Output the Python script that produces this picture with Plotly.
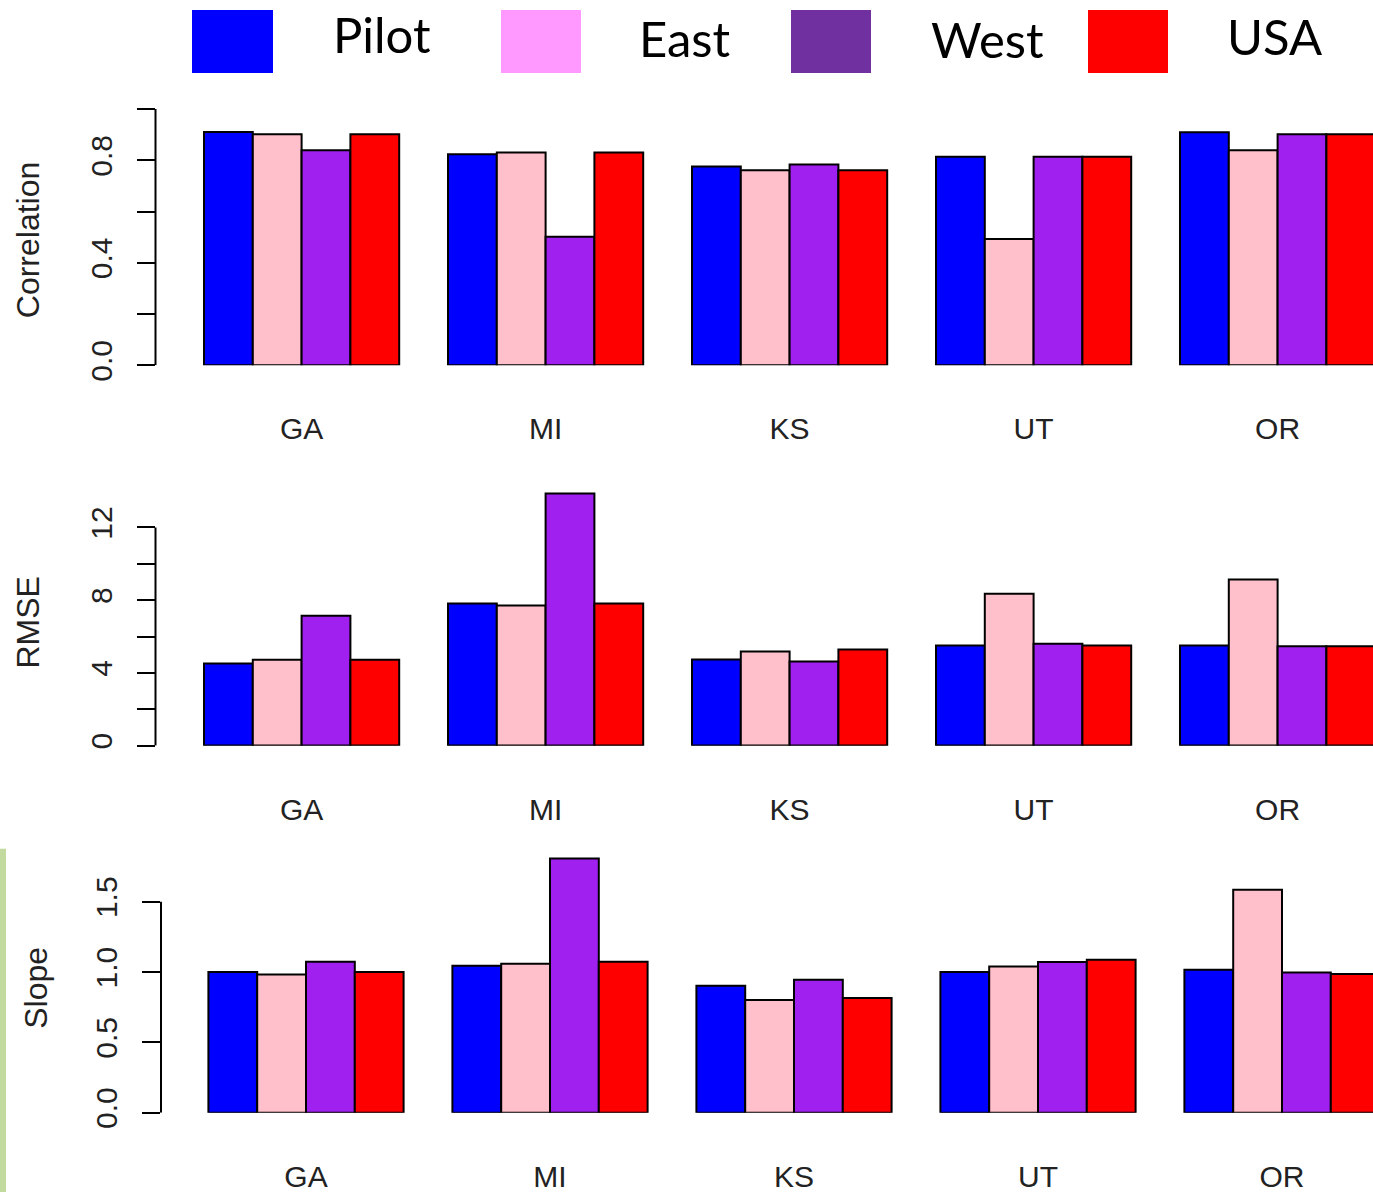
import plotly.graph_objects as go

# ---- data -------------------------------------------------------------
states = ["GA", "MI", "KS", "UT", "OR"]
series = ["Pilot", "East", "West", "USA"]

correlation = {
    "Pilot": [0.911, 0.824, 0.776, 0.814, 0.910],
    "East":  [0.902, 0.831, 0.761, 0.493, 0.839],
    "West":  [0.839, 0.502, 0.784, 0.814, 0.902],
    "USA":   [0.902, 0.831, 0.761, 0.814, 0.902],
}
rmse = {
    "Pilot": [4.51, 7.81, 4.73, 5.50, 5.50],
    "East":  [4.72, 7.70, 5.17, 8.35, 9.14],
    "West":  [7.14, 13.87, 4.62, 5.60, 5.47],
    "USA":   [4.72, 7.81, 5.28, 5.50, 5.47],
}
slope = {
    "Pilot": [1.000, 1.044, 0.902, 1.000, 1.016],
    "East":  [0.983, 1.059, 0.802, 1.040, 1.586],
    "West":  [1.073, 1.807, 0.945, 1.071, 0.997],
    "USA":   [1.000, 1.073, 0.816, 1.088, 0.986],
}

corr_ticks = [0.0, 0.2, 0.4, 0.6, 0.8, 1.0]
corr_ticktext = ["0.0", "", "0.4", "", "0.8", ""]
rmse_ticks = [0, 2, 4, 6, 8, 10, 12]
rmse_ticktext = ["0", "", "4", "", "8", "", "12"]
slope_ticks = [0.0, 0.5, 1.0, 1.5]
slope_ticktext = ["0.0", "0.5", "1.0", "1.5"]

bar_colors = {"Pilot": "#0000FF", "East": "#FFC0CB", "West": "#A020F0", "USA": "#FF0000"}
legend_colors = {"Pilot": "#0000FF", "East": "#FF99FF", "West": "#7030A0", "USA": "#FF0000"}

# ---- page geometry ----------------------------------------------------
W = 1373          # figure width in px
H = 1209          # figure height in px
REF_H = 1192      # vertical layout grid the positions below are laid out on


def fx(px):
    return px / W


def fy(py):
    return 1 - py / REF_H


# per panel: (title, values, ticks, ticktext, axis x px, first group centre px,
#             zero px, top tick px, domain top px)
panels = [
    ("Correlation", correlation, corr_ticks, corr_ticktext, 155.5, 301.6, 365.0, 109.0, 100.0),
    ("RMSE", rmse, rmse_ticks, rmse_ticktext, 155.5, 301.6, 745.0, 527.0, 480.0),
    ("Slope", slope, slope_ticks, slope_ticktext, 161.0, 306.0, 1111.7, 901.0, 845.0),
]
title_pos = [(28, 240), (28, 622), (36, 987)]
group_px = 244.0  # one state group (4 bars + gap)

fig = go.Figure()
layout = dict(
    width=W, height=H, autosize=False,
    margin=dict(l=0, r=0, t=0, b=0, pad=0),
    paper_bgcolor="white", plot_bgcolor="white",
    showlegend=False,
    barmode="group", bargap=0.2, bargroupgap=0.0,
    font=dict(family="Liberation Sans, Arial, sans-serif", color="#222222", size=30),
)
shapes = []
annotations = []

for i, (title, vals, tv, tt, ax_px, c0_px, zero_px, toptick_px, dom_top_px) in enumerate(panels):
    n = "" if i == 0 else str(i + 1)
    xa, ya = "x" + n, "y" + n
    for s in series:
        fig.add_trace(go.Bar(
            x=states, y=vals[s], name=s, xaxis=xa, yaxis=ya,
            marker=dict(color=bar_colors[s], line=dict(color="black", width=2)),
            offsetgroup=s,
        ))
    # scale: value of top tick sits at toptick_px
    ppu = (zero_px - toptick_px) / tv[-1]
    y_top = (zero_px - dom_top_px) / ppu
    x_lo = (ax_px - c0_px) / group_px
    x_hi = (W - c0_px) / group_px
    layout["xaxis" + n] = dict(
        domain=[fx(ax_px), 1.0], range=[x_lo, x_hi], anchor=ya,
        showgrid=False, zeroline=False, showline=False, ticks="",
        tickfont=dict(size=30, color="#222222"),
        ticklabelstandoff=43,
    )
    layout["yaxis" + n] = dict(
        domain=[fy(zero_px), fy(dom_top_px)], range=[0, y_top], anchor=xa,
        showgrid=False, zeroline=False, showline=False,
        tickvals=tv, ticktext=tt, tickangle=-90,
        ticks="outside", ticklen=18, tickwidth=2, tickcolor="black",
        tickfont=dict(size=30, color="#222222"),
        ticklabelstandoff=13,
    )
    # axis spine running from the first to the last tick
    shapes.append(dict(
        type="line", xref=xa + " domain", yref=ya,
        x0=0, x1=0, y0=tv[0], y1=tv[-1],
        line=dict(color="black", width=2),
    ))
    tx, ty = title_pos[i]
    annotations.append(dict(
        text=title, textangle=-90, xref="paper", yref="paper",
        x=fx(tx), y=fy(ty),
        showarrow=False, font=dict(size=32, color="#222222"),
        xanchor="center", yanchor="middle",
    ))

# header key
key_boxes = {"Pilot": (192, 273), "East": (501, 581), "West": (791, 871), "USA": (1088, 1168)}
key_text = {"Pilot": (331, 34), "East": (637, 38), "West": (929, 39), "USA": (1225, 36)}
for s in series:
    x0, x1 = key_boxes[s]
    shapes.append(dict(
        type="rect", xref="paper", yref="paper",
        x0=fx(x0), x1=fx(x1), y0=fy(73), y1=fy(10),
        fillcolor=legend_colors[s], line=dict(width=0),
    ))
    tx, ty = key_text[s]
    annotations.append(dict(
        text=s, xref="paper", yref="paper", x=fx(tx), y=fy(ty),
        xanchor="left", yanchor="middle", showarrow=False,
        font=dict(family="Lato, Open Sans, sans-serif", size=49, color="black"),
    ))

# slide-background sliver at the lower left edge
shapes.append(dict(
    type="rect", xref="paper", yref="paper",
    x0=0, x1=fx(6), y0=fy(1192), y1=fy(848),
    fillcolor="#c3da9e", line=dict(width=0), layer="below",
))

layout["shapes"] = shapes
layout["annotations"] = annotations
fig.update_layout(**layout)
fig.write_html("out.html")
